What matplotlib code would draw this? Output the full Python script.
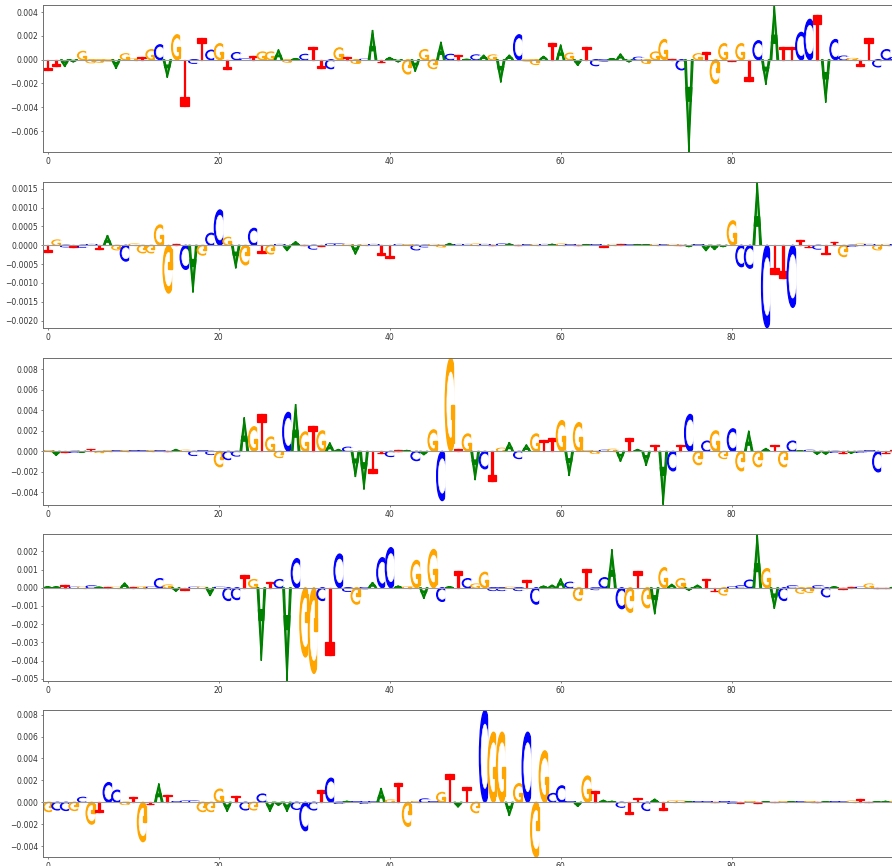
import numpy as np
import matplotlib
matplotlib.use("Agg")
import matplotlib.pyplot as plt
import matplotlib.patches as patches
import matplotlib.ticker as ticker

# contribution score per position (one base per position, signed)
seq1 = ("TTAAGGGGAG" "GTGCAGTCTC" "GTCCTGGAGA" "CTTCGTGCAT" "AAGAGGACTA"
        "CAGAACGGAT" "AGATCCAAAC" "GGGTCAGTGG" "TGTCAATTCC" "TACCGTTCCC")
vals1 = [-0.0009, -0.0005, -0.0006, -0.0002, 0.0007, -0.00025, -0.0002, -0.0001, -0.00075, 0.0005,
         0.00005, 0.0002, 0.00085, 0.00126, -0.0015, 0.0021, -0.0039, -0.0003, 0.0018, 0.0008,
         0.00135, -0.0008, 0.0006, 0.00005, 0.0003, 0.00065, 0.00065, 0.00085, -0.0002, 0.0001,
         0.00045, 0.0011, -0.0007, -0.00075, 0.001, 0.0002, -0.0003, 0.00003, 0.0025, -0.0002,
         0.0002, -0.0002, -0.0012, -0.001, 0.00085, -0.00075, 0.0015, 0.00045, 0.0004, 0.00003,
         0.0004, 0.0004, 0.0004, -0.0019, 0.0004, 0.0021, -0.0001, -0.0004, 0.0003, 0.0014,
         0.00126, 0.00055, -0.0005, 0.0011, -0.0005, -0.0001, 0.0001, 0.0005, -0.0002, 0.0002,
         -0.0003, 0.00065, 0.0017, 0.00003, -0.00085, -0.00776, 0.0005, 0.00065, -0.002, 0.00135,
         -0.0001, 0.00135, -0.0018, 0.0016, -0.0021, 0.0046, 0.0011, 0.0011, 0.0023, 0.0034,
         0.0038, -0.0036, 0.0017, 0.0003, 0.0001, -0.0005, 0.0018, -0.0006, 0.00085, 0.0002]

seq2 = ("TGCTCCTAGC" "GGGGGTCAGC" "CGAGCTGCAA" "TCTCCGAGCT" "TCGCCGGACC"
        "GCTCATCGCA" "GCTACTGTCA" "AGCGTACAAA" "GCCACTTCTT" "CTTGCGCGGC")
vals2 = [-0.00017, 0.00014, -0.00004, -0.00004, -0.00005, 0.00002, -0.0001, 0.00027, -0.00012, -0.00042,
         0.00003, -0.0002, -0.0002, 0.00054, -0.00127, 0.00003, -0.00064, -0.00125, -0.00026, 0.00032,
         0.00094, 0.00021, -0.00061, -0.00052, 0.00045, -0.0002, -0.00023, 0.00002, -0.00015, 0.0001,
         0.00002, -0.0001, -0.00003, 0.00003, 0.00003, 0.00002, -0.00024, 0.00002, 0.00002, -0.00026,
         -0.00035, 0.00002, 0.00001, -0.00012, -0.00004, 0.00002, -0.00004, 0.00005, 0.00002, 0.00002,
         0.00003, 0.00002, 0.00002, 0.00003, 0.00004, 0.00002, 0.00001, 0.00002, 0.00002, 0.00003,
         0.00003, 0.00001, 0.00002, 0.00002, 0.00001, -0.00004, 0.00002, 0.00003, 0.00001, 0.00002,
         0.00002, 0.00002, 0.00001, 0.00002, 0.00002, -0.00004, 0.00001, -0.00015, -0.00012, -0.00004,
         0.00065, -0.00057, -0.00061, 0.00169, -0.00219, -0.00076, -0.00086, -0.00165, 0.00014, -0.00005,
         -0.0001, -0.00024, 0.0001, -0.0003, -0.00003, 0.00003, 0.00002, -0.00012, 0.00002, 0.00001]

seq3 = ("GATCATGGCG" "CCGCTAGCCC" "GCCAGTGGCA" "GTGAACAATT" "CTACAGCGTG"
        "ACTGACAGTT" "GAGGGCGATA" "ATACTCGCGG" "CGAGATGCAC" "AACTACCCTT")
vals3 = [0.00005, -0.0004, -0.00008, -0.0001, -0.0001, 0.00025, -0.0001, 0.00003, 0.00002, 0.00003,
         0.00002, 0.00002, 0.00002, 0.00002, 0.00005, 0.0002, 0.0001, -0.0004, 0.00002, -0.0003,
         -0.0015, -0.0008, -0.00045, 0.0033, 0.0024, 0.0036, 0.0014, -0.0006, 0.0038, 0.0046,
         0.0019, 0.0025, 0.002, 0.00085, 0.0002, 0.0004, -0.0025, -0.0037, -0.0021, -0.0002,
         -0.0005, 0.0001, 0.0001, -0.0009, -0.00035, 0.0021, -0.0048, 0.0091, 0.0002, 0.0017,
         -0.0028, -0.0017, -0.0029, 0.0003, 0.0009, -0.0007, 0.00065, 0.0017, 0.0011, 0.0013,
         0.003, -0.0024, 0.0028, 0.00005, -0.0002, 0.0001, 0.0002, -0.001, 0.0013, 0.0002,
         -0.0014, 0.0006, -0.0052, -0.0019, 0.0006, 0.0036, -0.0013, 0.001, 0.002, -0.0007,
         0.0022, -0.0019, 0.002, -0.0015, 0.0003, 0.00065, -0.0015, 0.001, 0.00003, 0.0001,
         -0.0003, -0.0003, -0.0001, -0.0002, -0.0002, -0.0001, 0.00003, -0.002, -0.0002, 0.0001]

seq4 = ("AATCGCATGA" "TGCCGATCGA" "CCCTGATCAC" "GGCTCCGCAC" "CAGGAGCATC"
        "GGCCGCTCAA" "ACGTCCACGT" "GAGAGAATTG" "CCCAGACCGG" "CCATTCGTTA")
vals4 = [0.00005, 0.00005, 0.00015, 0.00002, 0.00002, 0.0001, 0.00003, 0.00003, 0.00002, 0.00027,
         0.00003, 0.00003, 0.00002, 0.0005, 0.00015, -0.0002, -0.00012, 0.00002, 0.00002, -0.00045,
         0.00002, -0.0007, -0.00065, 0.0007, 0.00045, -0.004, 0.0003, 0.00045, -0.0051, 0.0016,
         -0.0038, -0.0047, -0.0007, -0.0037, 0.00185, -0.0002, -0.0009, -0.00005, 0.0003, 0.00165,
         0.0022, 0.0001, 0.00003, 0.0015, -0.0006, 0.0021, -0.00075, 0.00005, 0.0009, 0.0005,
         0.0002, 0.00085, -0.00015, -0.00015, 0.00002, -0.00015, 0.00042, -0.0009, 0.0001, 0.00015,
         0.0005, 0.0003, -0.0007, 0.00105, -0.0001, 0.00055, 0.0021, -0.00115, -0.00135, 0.0009,
         -0.0011, -0.00145, 0.0011, 0.0002, 0.0005, -0.00015, 0.00015, 0.0005, -0.0002, -0.0004,
         0.00003, 0.0001, 0.00042, 0.00295, 0.00105, -0.00115, -0.0007, 0.0001, -0.0003, -0.00025,
         0.0001, -0.0005, 0.00005, -0.00005, 0.00002, 0.00002, 0.0002, -0.00003, -0.00003, 0.00002]

seq5 = ("GCCGCGTCCG" "TGTATCCCGG" "GATCGCAAAC" "CCTCCACCCA" "GTGGCCGTAT"
        "GCGGAGCGGC" "CCAGTAACTT" "CATGGACCTC" "CTGTATGACG" "TACCGTTAAG")
vals5 = [-0.00085, -0.0007, -0.00075, -0.00075, 0.00045, -0.002, -0.00085, 0.0018, 0.0011, -0.0002,
         0.00045, -0.0036, -0.0002, 0.0017, 0.0007, 0.00003, 0.0001, 0.0001, -0.00085, -0.00085,
         0.0012, -0.00085, 0.0006, -0.0007, -0.0007, 0.00075, -0.00085, -0.0003, -0.00085, -0.00065,
         -0.0026, -0.0007, 0.0011, 0.0022, -0.0001, 0.0001, 0.00002, -0.0001, 0.00003, 0.0013,
         0.0002, 0.0018, -0.0022, 0.00003, 0.0003, 0.00002, 0.0009, 0.0026, -0.00045, 0.0014,
         -0.00095, 0.0084, 0.0064, 0.0064, -0.00125, 0.0017, 0.0064, -0.005, 0.0047, 0.0008,
         0.0015, 0.00002, -0.0004, 0.0024, 0.001, 0.0002, 0.0001, -0.00045, -0.0011, 0.0004,
         -0.00075, 0.0003, -0.0007, 0.0001, 0.0001, 0.00005, 0.00003, 0.00003, 0.00002, 0.00002,
         -0.0001, -0.00003, 0.00002, -0.00003, 0.00002, 0.00002, 0.00002, 0.00002, 0.00002, 0.00002,
         0.00002, 0.00002, 0.00002, 0.00003, 0.0001, 0.0003, 0.00005, 0.00002, 0.0001, 0.00002]

tracks = [(seq1, vals1), (seq2, vals2), (seq3, vals3), (seq4, vals4), (seq5, vals5)]
ytick_steps = [0.002, 0.0005, 0.002, 0.001, 0.002]

colors = {'A': 'green', 'C': 'blue', 'G': 'orange', 'T': 'red'}
LW = 0.9


def draw_a(ax, left, h, color):
    shapes = [
        [[0.0, 0.0], [0.5, 1.0], [0.5, 0.8], [0.2, 0.0]],
        [[1.0, 0.0], [0.5, 1.0], [0.5, 0.8], [0.8, 0.0]],
        [[0.225, 0.45], [0.775, 0.45], [0.85, 0.3], [0.15, 0.3]],
    ]
    for s in shapes:
        xy = np.array(s) * [1.0, h] + [left, 0.0]
        ax.add_patch(patches.Polygon(xy, facecolor=color, edgecolor=color, lw=LW))


def draw_c(ax, left, h, color):
    ax.add_patch(patches.Ellipse((left + 0.65, 0.5 * h), 1.3, abs(h),
                                 facecolor=color, edgecolor=color, lw=LW))
    ax.add_patch(patches.Ellipse((left + 0.65, 0.5 * h), 0.7 * 1.3, 0.7 * abs(h),
                                 facecolor='white', edgecolor='white', lw=LW * 0.5))
    ax.add_patch(patches.Rectangle((left + 1, 0), 1.0, h,
                                   facecolor='white', edgecolor='white', lw=LW * 0.5))


def draw_g(ax, left, h, color):
    draw_c(ax, left, h, color)
    ax.add_patch(patches.Rectangle((left + 0.825, 0.085 * h), 0.174, 0.415 * h,
                                   facecolor=color, edgecolor=color, lw=LW))
    ax.add_patch(patches.Rectangle((left + 0.625, 0.35 * h), 0.374, 0.15 * h,
                                   facecolor=color, edgecolor=color, lw=LW))


def draw_t(ax, left, h, color):
    ax.add_patch(patches.Rectangle((left + 0.4, 0), 0.2, h,
                                   facecolor=color, edgecolor=color, lw=LW))
    ax.add_patch(patches.Rectangle((left, 0.8 * h), 1.0, 0.2 * h,
                                   facecolor=color, edgecolor=color, lw=LW))


draw_funcs = {'A': draw_a, 'C': draw_c, 'G': draw_g, 'T': draw_t}

plt.rcParams['font.size'] = 5.5

fig = plt.figure(figsize=(8.92, 8.66), dpi=100)
# axes boxes in figure fractions (the x range runs past the right edge)
boxes = [
    (0.0486, 0.8245, 0.9585, 0.1697),
    (0.0486, 0.6216, 0.9585, 0.1686),
    (0.0486, 0.4172, 0.9585, 0.1694),
    (0.0486, 0.2140, 0.9585, 0.1694),
    (0.0486, 0.0104, 0.9585, 0.1694),
]

for (seq, vals), box, step in zip(tracks, boxes, ytick_steps):
    assert len(seq) == len(vals)
    ax = fig.add_axes(box)
    for i, (base, v) in enumerate(zip(seq, vals)):
        draw_funcs[base](ax, i - 0.5, v, colors[base])
    ax.axhline(0, color='#9a9a9a', lw=0.8, zorder=5)
    ax.set_xlim(-0.5, len(seq) - 0.5)
    ax.set_ylim(min(vals), max(vals))
    ax.xaxis.set_major_locator(ticker.MultipleLocator(20))
    ax.yaxis.set_major_locator(ticker.MultipleLocator(step))
    ax.tick_params(length=1.5, width=0.5, pad=2, labelsize=5.5,
                   color='#555555', labelcolor='#333333')
    for sp in ax.spines.values():
        sp.set_linewidth(0.7)
        sp.set_color('#6e6e6e')

fig.savefig("out.png", dpi=100)
